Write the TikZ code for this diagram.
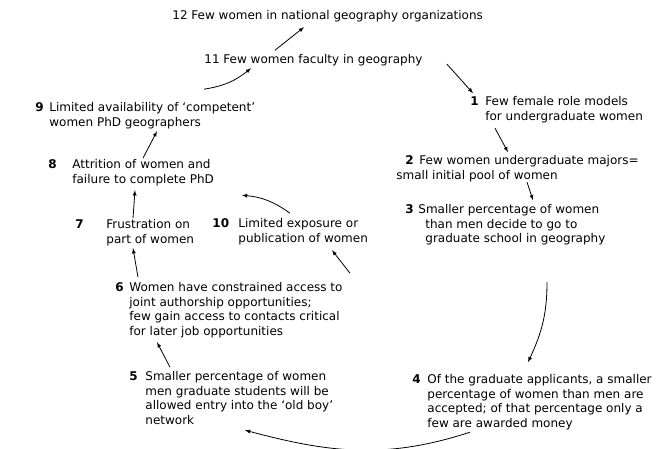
\documentclass[tikz,border=0pt]{standalone}
\usepackage{fontspec}
\setmainfont{DejaVu Sans}
\usetikzlibrary{calc}

\begin{document}
\begin{tikzpicture}[x=1pt, y=1pt, line width=0.8pt,
  item/.style={anchor=north west, inner sep=0pt, align=left, font=\fontsize{12}{14.5}\selectfont},
  num/.style={anchor=north west, inner sep=0pt, font=\fontsize{12}{14.5}\selectfont\bfseries}]
\useasboundingbox (0,0) rectangle (658,448);

\node (n12) at (172,437.8) [item] {12 Few women in national geography organizations};
\node (n11) at (204,393.8) [item] {11 Few women faculty in geography};
\node (n9) at (49,345.8) [item] {Limited availability of `competent'\\women PhD geographers};
\node (n1) at (485,351.8) [item] {Few female role models\\for undergraduate women};
\node (n8) at (72,288.8) [item] {Attrition of women and\\failure to complete PhD};
\node (n2) at (396,292.8) [item] {\hspace*{23pt}Few women undergraduate majors=\\small initial pool of women};
\node (n7) at (106,228.8) [item] {Frustration on\\part of women};
\node (n10) at (238,229.8) [item] {Limited exposure or\\publication of women};
\node (n3) at (418,243.8) [item] {Smaller percentage of women\\\hspace*{7pt}than men decide to go to\\\hspace*{7pt}graduate school in geography};
\node (n6) at (129,165.8) [item] {Women have constrained access to\\joint authorship opportunities;\\few gain access to contacts critical\\for later job opportunities};
\node (n5) at (145,76.8) [item] {Smaller percentage of women\\men graduate students will be\\allowed entry into the `old boy'\\network};
\node (n4) at (427,73.8) [item] {Of the graduate applicants, a smaller\\percentage of women than men are\\accepted; of that percentage only a\\few are awarded money};

\node (k9) at ($(n9.north west)+(-14,0)$) [num] {9};
\node (k1) at ($(n1.north west)+(-15,0)$) [num] {1};
\node (k8) at ($(n8.north west)+(-24,0)$) [num] {8};
\node (k2) at ($(n2.north west)+(9,0)$) [num] {2};
\node (k7) at ($(n7.north west)+(-31,0)$) [num] {7};
\node (k10) at ($(n10.north west)+(-26,0)$) [num] {10};
\node (k3) at ($(n3.north west)+(-13,0)$) [num] {3};
\node (k6) at ($(n6.north west)+(-14,0)$) [num] {6};
\node (k5) at ($(n5.north west)+(-16,0)$) [num] {5};
\node (k4) at ($(n4.north west)+(-15,0)$) [num] {4};

\draw[-latex] ($(n11.north west)+(71,4)$) -- ($(n12.north west)+(132,-17)$);
\draw[-latex] ($(n9.north west)+(155,13)$) to[bend right=15] ($(n11.north west)+(47,-14)$);
\draw[-latex] ($(n11.north west)+(243,-10)$) -- ($(n1.north west)+(-12,3)$);
\draw[-latex] ($(n1.north west)+(10,-32)$) -- ($(n2.north west)+(112,3)$);
\draw[-latex] ($(n2.north west)+(131,-27)$) -- ($(n3.north west)+(115,4)$);
\draw[-latex] ($(n3.north west)+(129,-78)$) to[out=-90, in=65] ($(n4.north west)+(101,12)$);
\begin{scope}
\clip (0,0) rectangle (658,448);
\draw[-latex] ($(n4.north west)+(43,-58)$) to[out=198, in=-15] ($(n5.north west)+(100,-59)$);
\end{scope}
\draw[-latex] ($(n5.north west)+(25,4)$) -- ($(n6.north west)+(28,-60)$);
\draw[-latex] ($(n6.north west)+(9,5)$) -- ($(n7.north west)+(27,-29)$);
\draw[-latex] ($(n6.north west)+(221,9)$) -- ($(n10.north west)+(94,-32)$);
\draw[-latex] ($(n7.north west)+(27,1)$) -- ($(n8.north west)+(63,-31)$);
\draw[-latex] ($(n10.north west)+(52,5)$) to[bend right=15] ($(n8.north west)+(170,-36)$);
\draw[-latex] ($(n8.north west)+(71,1)$) -- ($(n9.north west)+(108,-29)$);
\end{tikzpicture}
\end{document}
